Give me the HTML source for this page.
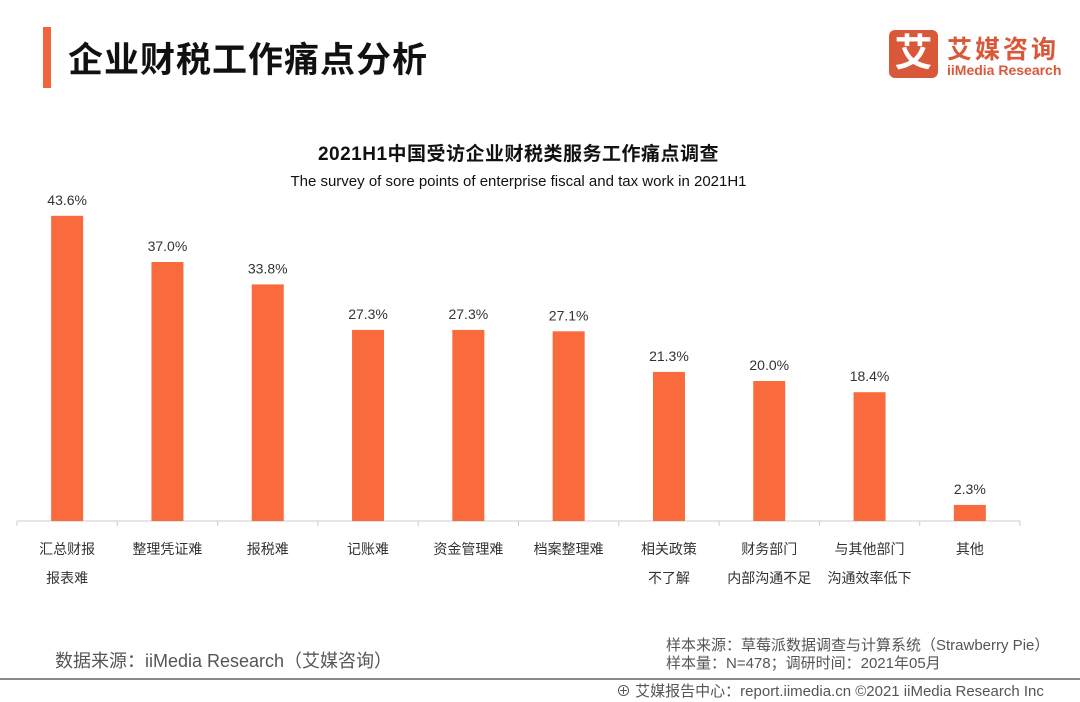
<!DOCTYPE html>
<html><head><meta charset="utf-8"><style>
body{margin:0;width:1080px;height:702px;background:#fff;overflow:hidden;font-family:"Liberation Sans","Noto Sans CJK SC",sans-serif;position:relative}
.a{position:absolute;white-space:nowrap}
</style></head><body>
<div class="a" style="left:43px;top:27px;width:8px;height:61px;background:#f0663a"></div>
<div class="a" style="left:68px;top:32px;font-size:35px;font-weight:bold;color:#111;letter-spacing:1px">企业财税工作痛点分析</div>
<div class="a" style="left:889px;top:30px;">
 <div style="position:absolute;left:0;top:0;width:49px;height:48px;background:#d9583a;border-radius:6px;color:#fff;font-size:38px;font-weight:bold;text-align:center;line-height:48px">艾</div>
 <div style="position:absolute;left:58px;top:0;font-size:25px;font-weight:bold;color:#d9583a;letter-spacing:3px">艾媒咨询</div>
 <div style="position:absolute;left:58px;top:32px;font-size:14px;font-weight:bold;color:#d9583a">iiMedia Research</div>
</div>
<div class="a" style="left:0;width:1037px;text-align:center;top:139px;font-size:19px;font-weight:bold;color:#111;letter-spacing:0.5px">2021H1中国受访企业财税类服务工作痛点调查</div>
<div class="a" style="left:0;width:1037px;text-align:center;top:173px;font-size:15px;color:#111">The survey of sore points of enterprise fiscal and tax work in 2021H1</div>
<svg id="chart" class="a" style="left:0;top:0" width="1080" height="620"></svg>
<div class="a" style="left:55px;top:647px;font-size:18px;color:#555">数据来源：iiMedia Research（艾媒咨询）</div>
<div class="a" style="left:666px;top:637px;font-size:15px;color:#555;line-height:18px">样本来源：草莓派数据调查与计算系统（Strawberry Pie）<br>样本量：N=478；调研时间：2021年05月</div>
<div class="a" style="left:0;top:678px;width:1080px;height:2px;background:#888"></div>
<div class="a" style="left:616px;top:680px;font-size:15px;color:#555">⊕ 艾媒报告中心：report.iimedia.cn ©2021 iiMedia Research Inc</div>
<script>
const categories=[["汇总财报","报表难"],["整理凭证难"],["报税难"],["记账难"],["资金管理难"],["档案整理难"],["相关政策","不了解"],["财务部门","内部沟通不足"],["与其他部门","沟通效率低下"],["其他"]];
const values=[43.6,37.0,33.8,27.3,27.3,27.1,21.3,20.0,18.4,2.3];
const svg=document.getElementById('chart');const NS='http://www.w3.org/2000/svg';
const x0=17,step=100.3,base=521,scale=7.0,bw=32;
const xc=i=>x0+step*(i+0.5);const y=v=>base-v*scale;
function mk(t,a){const e=document.createElementNS(NS,t);for(const k in a)e.setAttribute(k,a[k]);svg.appendChild(e);return e;}
const ax=mk('line',{x1:x0,x2:x0+step*values.length,y1:base,y2:base,stroke:'#ccc','stroke-width':1});


for(let i=0;i<=values.length;i++){const t=mk('line',{x1:x0+step*i,x2:x0+step*i,y1:base,y2:base+5,stroke:'#ccc'});

}
values.forEach((v,i)=>{
 const r=mk('rect',{x:xc(i)-bw/2,y:y(v),width:bw,height:v*scale,fill:'#f96b3d'});
 
 
 const l=mk('text',{x:xc(i),y:y(v)-11,'text-anchor':'middle','font-size':14,fill:'#333'});l.textContent=v.toFixed(1)+'%';
 
 
 categories[i].forEach((s,j)=>{const c=mk('text',{x:xc(i),y:554+j*29,'text-anchor':'middle','font-size':14,fill:'#333'});c.textContent=s;
 
 });
});
</script>
</body></html>
